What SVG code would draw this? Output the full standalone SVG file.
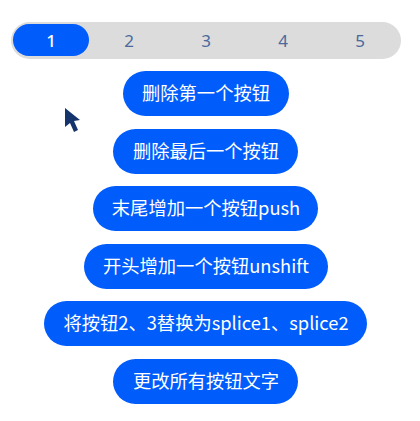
<svg xmlns="http://www.w3.org/2000/svg" width="420" height="421" viewBox="0 0 420 421">
<style>
text{font-family:"Noto Sans CJK SC","Noto Sans",sans-serif;text-anchor:middle}
.b{fill:#005cfb}
.t{fill:#fff;font-size:18.3px;font-weight:400}
.n{fill:#4a6a9c;font-size:17px;font-family:"Noto Sans",sans-serif}
</style>
<rect width="420" height="421" fill="#fff"/>
<g id="tabs">
<rect x="11" y="22" width="390" height="37" rx="18.5" fill="#dcdcdc"/>
<rect x="13" y="24" width="76" height="32" rx="16" class="b"/>
<text x="51" y="46.5" fill="#fff" font-size="17" font-weight="500" style="font-family:'Noto Sans',sans-serif">1</text>
<text x="129" y="46.5" class="n">2</text>
<text x="206" y="46.5" class="n">3</text>
<text x="283" y="46.5" class="n">4</text>
<text x="360" y="46.5" class="n">5</text>
</g>
<g id="btn1"><rect x="123" y="71" width="166" height="45" rx="22.5" class="b"/><text x="206" y="100" class="t">删除第一个按钮</text></g>
<g id="btn2"><rect x="113" y="129" width="185" height="45" rx="22.5" class="b"/><text x="206" y="158" class="t">删除最后一个按钮</text></g>
<g id="btn3"><rect x="93" y="186" width="225" height="45" rx="22.5" class="b"/><text x="206" y="215" class="t">末尾增加一个按钮push</text></g>
<g id="btn4"><rect x="84" y="244" width="244" height="45" rx="22.5" class="b"/><text x="206" y="273" class="t">开头增加一个按钮unshift</text></g>
<g id="btn5"><rect x="44" y="301" width="323" height="45" rx="22.5" class="b"/><text x="206" y="330" class="t">将按钮2、3替换为splice1、splice2</text></g>
<g id="btn6"><rect x="113" y="359" width="185" height="45" rx="22.5" class="b"/><text x="206" y="388" class="t">更改所有按钮文字</text></g>
<path id="cursor" d="M65 108L65 127L70 123L74 132L78 130L74 121L80 120Z" fill="#15346b"/>
</svg>
